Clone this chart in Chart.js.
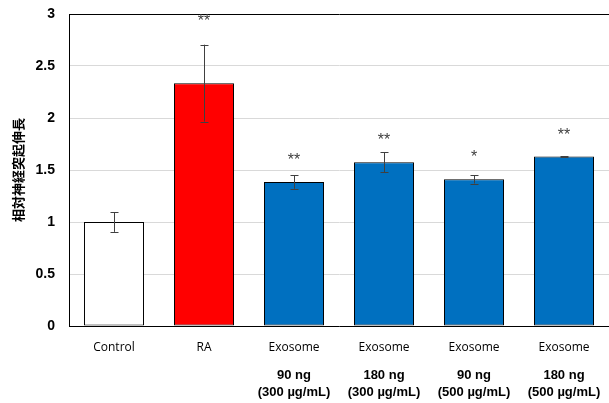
<!DOCTYPE html>
<html>
<head>
<meta charset="utf-8">
<script src="https://cdn.jsdelivr.net/npm/chart.js@4/dist/chart.umd.min.js"></script>
<style>
  html, body { margin: 0; padding: 0; background: #fff; }
  #wrap { width: 609px; height: 403px; }
</style>
</head>
<body>
<div id="wrap"><canvas id="chart" width="609" height="403"></canvas></div>
<script>
// Chart data
const categories = ['Control', 'RA', 'Exosome', 'Exosome', 'Exosome', 'Exosome'];
const doseLabels = [
  '',
  '',
  ['90 ng', '(300 µg/mL)'],
  ['180 ng', '(300 µg/mL)'],
  ['90 ng', '(500 µg/mL)'],
  ['180 ng', '(500 µg/mL)']
];
const meanValues = [1.0, 2.335, 1.385, 1.575, 1.41, 1.63];
const errorValues = [0.095, 0.37, 0.065, 0.095, 0.04, 0.004];
const barColors = ['#ffffff', '#ff0000', '#0070c0', '#0070c0', '#0070c0', '#0070c0'];
const sigMarks = ['', '**', '**', '**', '*', '**'];
const sigHeights = [0, 2.96, 1.615, 1.81, 1.645, 1.855];
const yTicks = [0, 0.5, 1, 1.5, 2, 2.5, 3];

const TICK_FONT = '"Liberation Sans", Arial, sans-serif';

// Draws error bars and significance marks through the chart scales
const errorBarPlugin = {
  id: 'errorBars',
  afterDatasetsDraw(chart) {
    const { ctx, scales: { x, y } } = chart;
    ctx.save();
    ctx.strokeStyle = '#404040';
    ctx.lineWidth = 1;
    meanValues.forEach((v, i) => {
      const cx = Math.round(x.getPixelForValue(i)) + 0.5;
      const top = y.getPixelForValue(v + errorValues[i]);
      const bot = y.getPixelForValue(v - errorValues[i]);
      ctx.beginPath();
      ctx.moveTo(cx, top);
      ctx.lineTo(cx, bot);
      ctx.moveTo(cx - 4, Math.round(top) + 0.5);
      ctx.lineTo(cx + 4, Math.round(top) + 0.5);
      ctx.moveTo(cx - 4, Math.round(bot) + 0.5);
      ctx.lineTo(cx + 4, Math.round(bot) + 0.5);
      ctx.stroke();
    });
    ctx.fillStyle = '#404040';
    ctx.font = '16px ' + TICK_FONT;
    ctx.textAlign = 'center';
    ctx.textBaseline = 'middle';
    sigMarks.forEach((mark, i) => {
      if (!mark) return;
      ctx.fillText(mark, x.getPixelForValue(i), y.getPixelForValue(sigHeights[i]) + 3);
    });
    ctx.restore();
  }
};

// keep category axes from reserving side room for their labels
const noSidePadding = (axis) => {
  axis.paddingLeft = 0;
  axis.paddingRight = 0;
};

new Chart(document.getElementById('chart'), {
  type: 'bar',
  data: {
    labels: categories,
    datasets: [{
      data: meanValues,
      backgroundColor: barColors,
      borderColor: '#000000',
      borderWidth: 1,
      borderSkipped: false,
      barPercentage: 0.667,
      categoryPercentage: 1
    }]
  },
  options: {
    responsive: false,
    animation: false,
    layout: { padding: { top: 14, right: 0, bottom: 0, left: 10 } },
    plugins: {
      legend: { display: false },
      tooltip: { enabled: false }
    },
    scales: {
      y: {
        min: 0,
        max: 3,
        afterBuildTicks: (axis) => { axis.ticks = yTicks.map(v => ({ value: v })); },
        afterFit: (axis) => {
          axis.width = 59;
          axis.paddingTop = 0;
          axis.paddingBottom = 0;
        },
        grid: {
          color: (c) => c.tick && c.tick.value === 3 ? '#000000' : '#d9d9d9',
          drawTicks: false
        },
        border: { color: '#000000', width: 1 },
        ticks: {
          color: '#000000',
          padding: 14,
          callback: (v) => String(v),
          font: { family: TICK_FONT, size: 14, weight: 'bold' }
        },
        title: {
          display: true,
          text: '相対神経突起伸長',
          color: '#000000',
          padding: { top: 0, bottom: 3 },
          font: { family: '"Noto Sans CJK JP", sans-serif', size: 13, weight: 'bold' }
        }
      },
      x: {
        afterFit: (axis) => {
          axis.height = 30;
          noSidePadding(axis);
        },
        grid: { display: false },
        border: { color: '#000000', width: 1 },
        ticks: {
          color: '#000000',
          padding: 6,
          maxRotation: 0,
          autoSkip: false,
          font: { family: '"Open Sans", sans-serif', size: 12 }
        }
      },
      x2: {
        type: 'category',
        position: 'bottom',
        labels: doseLabels,
        afterFit: (axis) => {
          axis.height = 47;
          noSidePadding(axis);
        },
        grid: { display: false, drawTicks: false },
        border: { display: false },
        ticks: {
          color: '#000000',
          padding: 11,
          maxRotation: 0,
          autoSkip: false,
          font: { family: TICK_FONT, size: 13, weight: 'bold', lineHeight: 1.3 }
        }
      }
    }
  },
  plugins: [errorBarPlugin]
});
</script>
</body>
</html>
